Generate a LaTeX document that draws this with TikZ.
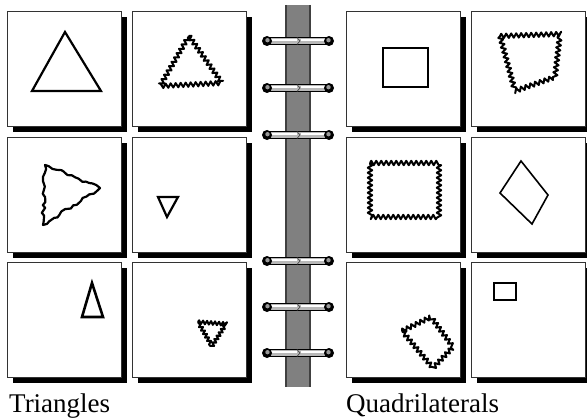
\documentclass[tikz,border=0pt]{standalone}
\usepackage{fontspec}
\setmainfont{Liberation Serif}
\usetikzlibrary{decorations.pathmorphing}

\tikzset{
  card/.style={draw=black!80, line width=0.8pt, fill=white},
  cardshadow/.style={fill=black},
  outline/.style={draw=black, line width=2.2pt, line join=miter},
  zig/.style={outline, line width=2pt, line join=round, decorate, decoration={zigzag, segment length=5pt, amplitude=2.2pt}},
  wobble/.style={outline, line join=round, decorate, decoration={random steps, segment length=4pt, amplitude=1.6pt}},
  label/.style={anchor=base west, inner sep=0pt, font=\fontsize{27}{31}\selectfont}
}

\begin{document}
\begin{tikzpicture}[x=1pt, y=-1pt]
  \pgfmathsetseed{7}
  \useasboundingbox (0,0) rectangle (587,420);
  % Cards with shadows
  \foreach \cx in {7,132,346,471}
    \foreach \cy in {11,137,262} {
      \fill [cardshadow] (\cx+6,\cy+6) rectangle (\cx+120,\cy+121);
      \draw [card] (\cx,\cy) rectangle (\cx+114,\cy+115);
    }
  % Spine
  \fill [black!50] (285,5) rectangle (311,387);
  \draw [black!75, line width=1.2pt] (286,5) -- (286,387);
  \draw [black!75, line width=1.2pt] (310,5) -- (310,387);
  % Rings
  \foreach \ry in {41,88,135,261,307,353} {
    \draw [black, fill=black!28, line width=0.7pt] (267,\ry-3.6) rectangle (329,\ry+3.6);
    \draw [white, line width=1.6pt] (270,\ry-1) -- (297,\ry-1);
    \draw [white, line width=1.6pt] (301,\ry-1) -- (326,\ry-1);
    \draw [black!70, line width=0.7pt] (297,\ry-3.4) -- (300,\ry) -- (297,\ry+3.4);
    \fill [black] (267,\ry) circle (5);
    \fill [black] (329,\ry) circle (5);
    \fill [black!40] (267.5,\ry-0.8) circle (2.2);
    \fill [black!40] (328.5,\ry-0.8) circle (2.2);
  }
  % Triangles
  \draw [outline] (65,32) -- (101,91) -- (32,91) -- cycle;
  \draw [zig] (189,36) -- (222,83) -- (160,86) -- cycle;
  \draw [wobble] (45,165) -- (100,188) -- (43,225) -- cycle;
  \draw [outline] (158,197) -- (178,197) -- (167,217) -- cycle;
  \draw [outline, line width=2.6pt] (92,283) -- (103,317) -- (82,317) -- cycle;
  \draw [zig, decoration={segment length=4pt, amplitude=1.8pt}] (198,322) -- (226,324) -- (212,346) -- cycle;
  % Quadrilaterals
  \draw [outline, line width=2.6pt] (383,48) rectangle (428,87);
  \draw [zig] (500,36) -- (560,34) -- (555,77) -- (515,91) -- cycle;
  \draw [zig] (370,163) -- (439,163) -- (439,217) -- (370,217) -- cycle;
  \draw [outline, line width=1.6pt] (521,161) -- (548,195) -- (532,224) -- (500,193) -- cycle;
  \draw [zig] (402,331) -- (431,317) -- (453,347) -- (433,368) -- cycle;
  \draw [outline, line width=1.8pt] (494,283) rectangle (516,300);
  % Labels
  \node [label] (tri) at (9,412) {Triangles};
  \node [label] (quad) at (346,412) {Quadrilaterals};
\end{tikzpicture}
\end{document}
